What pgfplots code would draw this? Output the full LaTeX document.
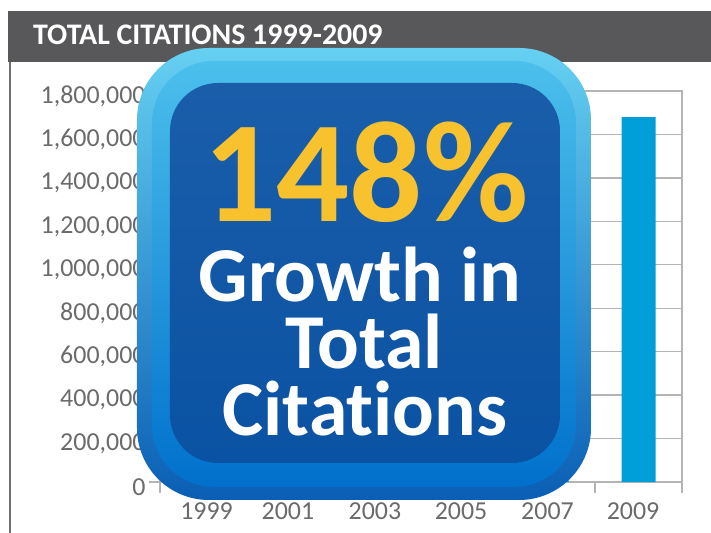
\documentclass[border=0pt]{standalone}
\usepackage{pgfplots}
\pgfplotsset{compat=1.18}
\usepackage{fontspec}
\setmainfont{Carlito}[Ligatures={NoCommon}]
\definecolor{barblue}{HTML}{009FDA}
\definecolor{gridgray}{HTML}{B4B4B4}
\definecolor{labelgray}{HTML}{6B6B6B}
\definecolor{titlegray}{HTML}{58585A}
\definecolor{bordergray}{HTML}{707070}
\definecolor{ringtop}{HTML}{66D0F2}
\definecolor{ringmid}{HTML}{0F62B0}
\definecolor{ringbot}{HTML}{0A5EB4}
\definecolor{ringtwotop}{HTML}{4CC0EC}
\definecolor{ringtwomid}{HTML}{0A72CE}
\definecolor{ringtwobot}{HTML}{0070CC}
\definecolor{paneltop}{HTML}{1A5EAA}
\definecolor{panelmid}{HTML}{0A4D9D}
\definecolor{panelbot}{HTML}{0A52A3}
\definecolor{yel}{HTML}{F8C22E}
\begin{document}
\begin{tikzpicture}
\path[use as bounding box] (-160bp,-51bp) rectangle (551bp,482bp);
\fill[white] (-160bp,-51bp) rectangle (551bp,482bp);
\begin{axis}[
  at={(0,0)}, anchor=south west,
  scale only axis, width=522bp, height=391bp,
  xmin=-0.5, xmax=5.5, ymin=0, ymax=1800000,
  xtick={-0.5,0.5,...,5.5}, xticklabels={},
  extra x ticks={0.035,0.971,1.971,2.960,3.954,4.937},
  extra x tick labels={1999,2001,2003,2005,2007,2009},
  extra x tick style={major tick length=0pt, xticklabel style={yshift=-17bp}},
  ytick={0,200000,400000,600000,800000,1000000,1200000,1400000,1600000,1800000},
  extra y ticks={0},
  extra y tick labels={},
  extra y tick style={tick align=center, major tick length=14bp},
  scaled y ticks=false,
  /pgf/number format/fixed,
  /pgf/number format/1000 sep={,},
  /pgf/number format/assume math mode=true,
  tick label style={font=\fontsize{26}{30}\selectfont, text=labelgray},
  yticklabel style={yshift=-5bp},
  ymajorgrids,
  major grid style={color=gridgray, line width=1.3bp},
  axis line style={color=gridgray, line width=1.3bp},
  tick style={color=gridgray, line width=1.3bp},
  tick align=outside,
  tick pos=left,
  major tick length=11bp,
]
\addplot[ybar, bar width=34bp, fill=barblue, draw=none]
  coordinates {(0,677000) (1,820000) (2,980000) (3,1180000) (4,1420000) (5,1680000)};
\end{axis}
\begin{scope}[x=1bp, y=-1bp, shift={(-160bp,482bp)}]
  \fill[titlegray] (8,11) rectangle (711,62);
  \draw[bordergray, line width=2bp] (10,62) -- (10,533);
  \node[anchor=base west, text=white, font=\bfseries\fontsize{30}{32}\selectfont, inner sep=0pt] at (33,45) {TOTAL CITATIONS 1999-2009};
  \shade[top color=ringtop, middle color=ringmid, bottom color=ringbot, rounded corners=72bp] (137,48) rectangle (591,500);
  \shade[top color=ringtwotop, middle color=ringtwomid, bottom color=ringtwobot, rounded corners=62bp] (152,61) rectangle (576,487);
  \shade[top color=paneltop, middle color=panelmid, bottom color=panelbot, rounded corners=48bp] (170,83) rectangle (560,463);
  \node[anchor=base, text=yel, font=\bfseries\fontsize{145}{150}\selectfont, inner sep=0pt, text height=94bp, text depth=0pt] at (366,222) {148\%};
  \node[anchor=base, text=white, font=\bfseries\fontsize{78}{80}\selectfont, inner sep=0pt, text height=50bp, text depth=0pt] at (360,302) {Growth in};
  \node[anchor=base, text=white, font=\bfseries\fontsize{78}{80}\selectfont, inner sep=0pt, text height=50bp, text depth=0pt] at (364,369) {Total};
  \node[anchor=base, text=white, font=\bfseries\fontsize{78}{80}\selectfont, inner sep=0pt, text height=50bp, text depth=0pt] at (365,436) {Citat\kern0pt ions};
\end{scope}
\end{tikzpicture}
\end{document}
